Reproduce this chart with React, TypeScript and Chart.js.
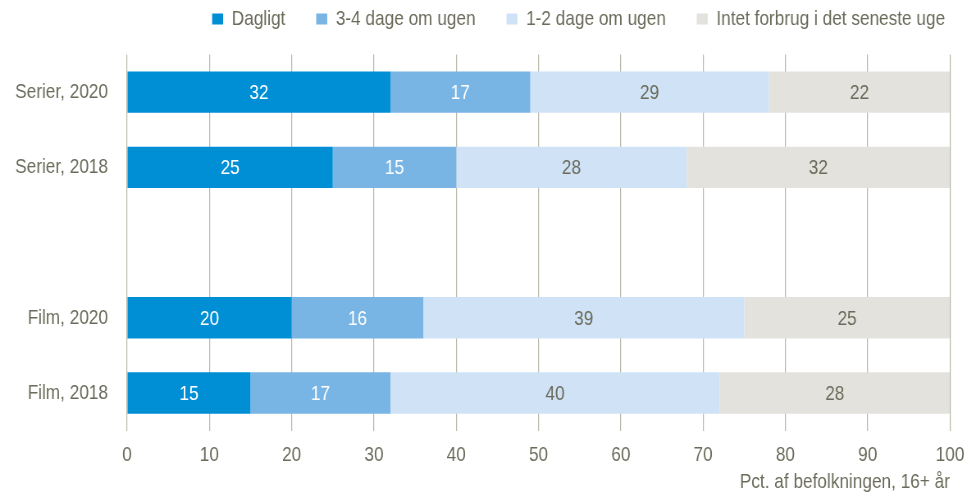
import React, { useEffect, useRef } from "react";
import { Chart, registerables } from "chart.js";

Chart.register(...registerables);

const categories = ["Serier, 2020", "Serier, 2018", "", "Film, 2020", "Film, 2018"];
const seriesNames = ["Dagligt", "3-4 dage om ugen", "1-2 dage om ugen", "Intet forbrug i det seneste uge"];
const dagligt = [32, 25, null, 20, 15];
const treFire = [17, 15, null, 16, 17];
const enTo = [29, 28, null, 39, 40];
const intet = [22, 32, null, 25, 28];
const xTicks = [0, 10, 20, 30, 40, 50, 60, 70, 80, 90, 100];
const axisTitle = "Pct. af befolkningen, 16+ år";

const colors = ["#008fd5", "#78b5e4", "#cfe2f6", "#e3e2dd"];
const labelColors = ["#ffffff", "#ffffff", "#6b6b5b", "#6b6b5b"];
const FONT = "'Liberation Sans', Arial, sans-serif";
const TEXT = "#6b6b5b";

// horizontal condensing factor (renders Arial-metric text like Arial Narrow)
const K = 0.82;
const DW = 976;
const DH = 495;
const IW = Math.round(DW / K);
const LEGEND_PAD = 37.6;

const dataLabelPlugin = {
  id: "dataLabels",
  afterDatasetsDraw(chart: any) {
    const ctx = chart.ctx;
    ctx.save();
    ctx.font = `21px ${FONT}`;
    ctx.textAlign = "center";
    ctx.textBaseline = "middle";
    chart.data.datasets.forEach((ds: any, i: number) => {
      const meta = chart.getDatasetMeta(i);
      meta.data.forEach((el: any, j: number) => {
        const v = ds.data[j];
        if (v === null || v === undefined) return;
        const p = el.getCenterPoint();
        ctx.fillStyle = labelColors[i];
        ctx.fillText(String(v), p.x, p.y + 1);
      });
    });
    ctx.restore();
  },
};

const legendSpacePlugin = {
  id: "legendSpace",
  afterInit(chart: any) {
    const lg = chart.legend;
    if (!lg) return;
    const fit = lg.fit.bind(lg);
    lg.fit = function () {
      fit();
      this.height += 15;
    };
  },
};

export default function App() {
  const ref = useRef<HTMLCanvasElement>(null);
  useEffect(() => {
    document.body.style.margin = "0";
    const seriesData = [dagligt, treFire, enTo, intet];
    const chart = new Chart(ref.current as HTMLCanvasElement, {
      type: "bar",
      data: {
        labels: categories,
        datasets: seriesNames.map((name, i) => ({
          label: name,
          data: seriesData[i] as any,
          backgroundColor: colors[i],
          borderWidth: 0,
          categoryPercentage: 1,
          barPercentage: 0.55,
        })),
      },
      options: {
        indexAxis: "y",
        animation: false,
        responsive: false,
        devicePixelRatio: 1,
        layout: { padding: { left: 0, right: 0, top: 19 - 10.5 - LEGEND_PAD, bottom: 0 } },
        plugins: {
          legend: {
            position: "top",
            align: "end",
            labels: {
              boxWidth: 11 / K,
              boxHeight: 11,
              padding: LEGEND_PAD,
              color: TEXT,
              font: { family: FONT, size: 21 },
            },
          },
          tooltip: { enabled: false },
        },
        scales: {
          x: {
            stacked: true,
            min: 0,
            max: 100,
            afterBuildTicks: (scale: any) => {
              scale.ticks = xTicks.map((v) => ({ value: v }));
            },
            afterFit: (scale: any) => {
              scale.paddingRight = 26 / K;
            },
            grid: { color: "#b8b8a8", drawTicks: false, lineWidth: 1 / K },
            border: { display: false },
            ticks: { color: TEXT, font: { family: FONT, size: 21 }, padding: 12 },
            title: {
              display: true,
              text: axisTitle,
              align: "end",
              color: TEXT,
              font: { family: FONT, size: 21 },
              padding: { top: -10, bottom: 0 },
            },
          },
          y: {
            stacked: true,
            grid: { display: false, drawTicks: false },
            border: { display: false },
            ticks: { color: TEXT, font: { family: FONT, size: 21 }, padding: 19 / K },
            afterFit: (scale: any) => {
              scale.width = 127 / K;
            },
          },
        },
      },
      plugins: [dataLabelPlugin, legendSpacePlugin],
    });
    return () => chart.destroy();
  }, []);
  return (
    <div style={{ width: DW, height: DH }}>
      <canvas
        ref={ref}
        width={IW}
        height={DH}
        style={{ display: "block", width: DW + "px", height: DH + "px" }}
      />
    </div>
  );
}
